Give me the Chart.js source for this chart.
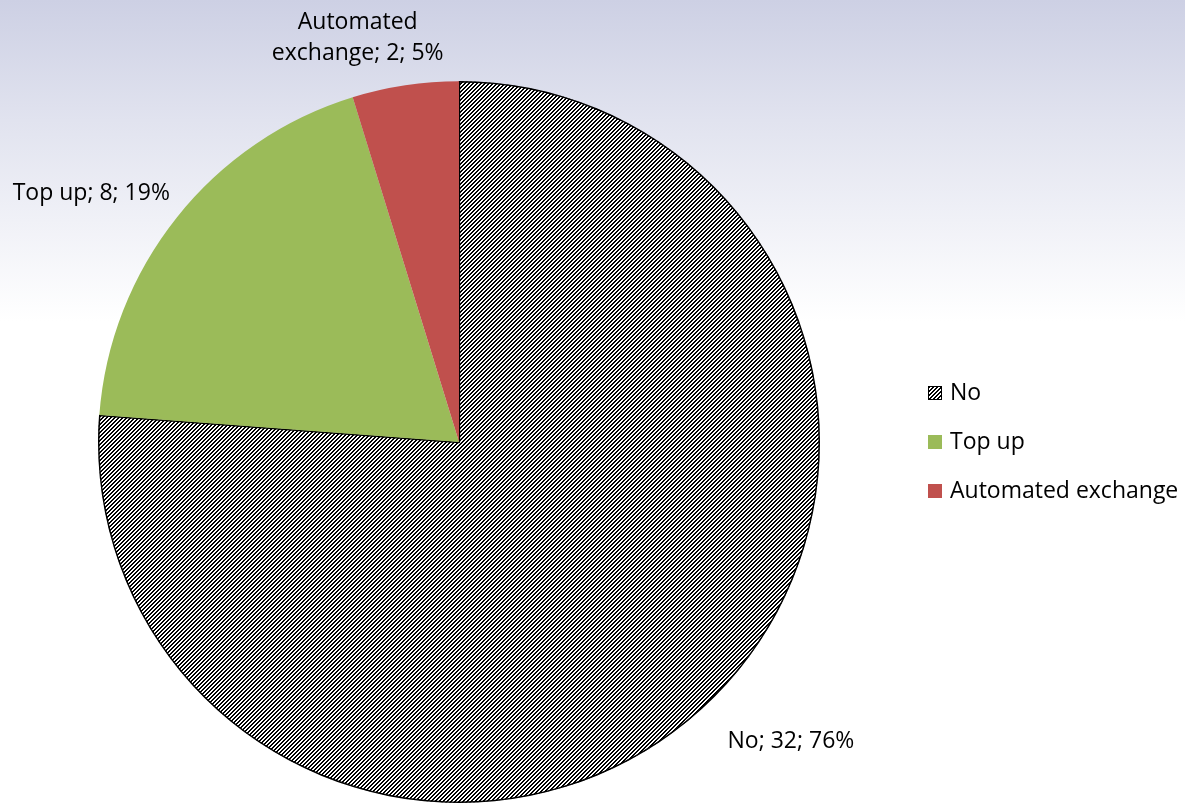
<!DOCTYPE html>
<html>
<head>
<meta charset="utf-8">
<script src="https://cdn.jsdelivr.net/npm/chart.js@4.4.0/dist/chart.umd.min.js"></script>
<style>
  html, body { margin: 0; padding: 0; background: #ffffff; }
  #wrap { width: 1185px; height: 803px; position: relative; }
</style>
</head>
<body>
<div id="wrap"><canvas id="c" width="1185" height="803"></canvas></div>
<script>
// ---- data ----
const categories = ["No", "Top up", "Automated exchange"];
const counts = [32, 8, 2];
const percentLabels = ["76%", "19%", "5%"];
const dataLabelLines = [["No; 32; 76%"], ["Top up; 8; 19%"], ["Automated", "exchange; 2; 5%"]];

// ---- styling ----
const FONT = '"Open Sans", sans-serif';
const FONT_SIZE = 23;
const GREEN = '#9bbb59';
const RED = '#c0504d';

function hatchPattern() {
  const t = document.createElement('canvas');
  t.width = 4; t.height = 4;
  const g = t.getContext('2d');
  g.fillStyle = '#ffffff';
  g.fillRect(0, 0, 4, 4);
  g.fillStyle = '#000000';
  for (let y = 0; y < 4; y++) {
    g.fillRect((3 - y + 4) % 4, y, 1, 1);
    g.fillRect((4 - y + 4) % 4, y, 1, 1);
  }
  return g.createPattern(t, 'repeat');
}
const ctx0 = document.getElementById('c').getContext('2d');
const HATCH = hatchPattern();

// label block offsets relative to point just outside arc mid-angle (layout only)
const labelOffsets = [{dx: 66, dy: 13}, {dx: -62, dy: -5}, {dx: -43, dy: -17}];

const bgPlugin = {
  id: 'bg',
  beforeDraw(chart) {
    const c = chart.ctx;
    const g = c.createLinearGradient(0, 0, 0, chart.height);
    g.addColorStop(0, '#cdd0e4');
    g.addColorStop(0.15, '#e1e3ef');
    g.addColorStop(0.4, '#ffffff');
    g.addColorStop(1, '#ffffff');
    c.save();
    c.fillStyle = g;
    c.fillRect(0, 0, chart.width, chart.height);
    c.restore();
  }
};

const labelPlugin = {
  id: 'pieLabels',
  afterDatasetsDraw(chart) {
    const c = chart.ctx;
    const meta = chart.getDatasetMeta(0);
    c.save();
    c.font = FONT_SIZE + 'px ' + FONT;
    c.fillStyle = '#000000';
    c.textAlign = 'center';
    c.textBaseline = 'middle';
    const lh = 31;
    meta.data.forEach((arc, i) => {
      const p = arc.getProps(['x', 'y', 'startAngle', 'endAngle', 'outerRadius'], true);
      const mid = (p.startAngle + p.endAngle) / 2;
      const r = p.outerRadius + 30;
      const cx = p.x + Math.cos(mid) * r + labelOffsets[i].dx;
      const cy = p.y + Math.sin(mid) * r + labelOffsets[i].dy;
      const lines = dataLabelLines[i];
      const y0 = cy - (lines.length - 1) * lh / 2;
      lines.forEach((ln, k) => c.fillText(ln, cx, y0 + k * lh));
    });
    c.restore();
  }
};

const legendPlugin = {
  id: 'customLegend',
  afterDraw(chart) {
    const c = chart.ctx;
    const ds = chart.data.datasets[0];
    const area = chart.chartArea;
    const cy = (area.top + area.bottom) / 2;
    const gap = 49;
    const x = area.right + 10;
    c.save();
    c.font = FONT_SIZE + 'px ' + FONT;
    c.textBaseline = 'middle';
    c.textAlign = 'left';
    chart.data.labels.forEach((lab, i) => {
      const y = cy + (i - (chart.data.labels.length - 1) / 2) * gap;
      c.fillStyle = ds.backgroundColor[i];
      c.fillRect(x, y - 7, 14, 14);
      if (ds.borderWidth[i] > 0) {
        c.strokeStyle = '#000000';
        c.lineWidth = 1;
        c.strokeRect(x + 0.5, y - 6.5, 13, 13);
      }
      c.fillStyle = '#000000';
      c.fillText(lab, x + 22, y);
    });
    c.restore();
  }
};

new Chart(ctx0, {
  type: 'pie',
  data: {
    labels: categories,
    datasets: [{
      data: counts,
      backgroundColor: [HATCH, GREEN, RED],
      borderColor: ['#000000', GREEN, RED],
      borderWidth: [1.2, 0, 0],
      borderAlign: 'inner'
    }]
  },
  options: {
    responsive: false,
    animation: false,
    layout: { padding: { top: 81, bottom: 0, left: 0, right: 267 } },
    plugins: {
      legend: { display: false },
      tooltip: { enabled: false }
    }
  },
  plugins: [bgPlugin, labelPlugin, legendPlugin]
});
</script>
</body>
</html>
